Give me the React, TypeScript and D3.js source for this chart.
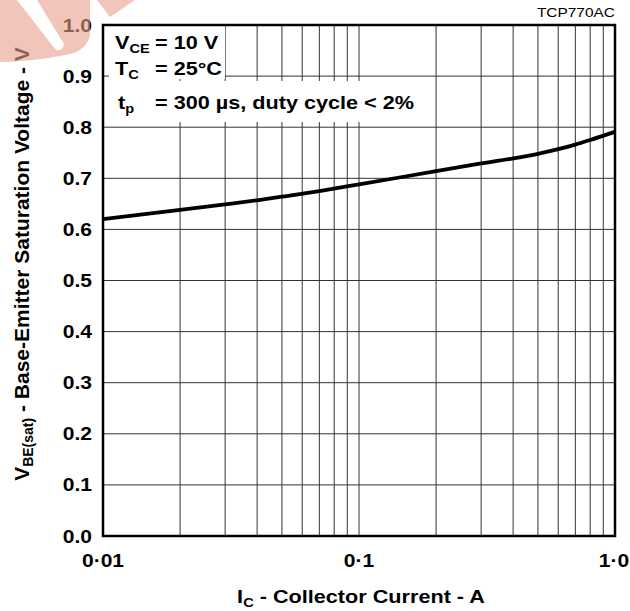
import * as d3 from "d3";

const currentA = [0.01, 0.02, 0.03, 0.04, 0.05, 0.07, 0.1, 0.2, 0.3, 0.4, 0.5, 0.6, 0.7, 0.8, 1.0];
const vbeSat = [0.62, 0.638, 0.649, 0.657, 0.664, 0.675, 0.688, 0.714, 0.729, 0.739, 0.748, 0.757, 0.766, 0.775, 0.791];

const xTickValues = [0.01, 0.1, 1.0];
const xTickLabels = ["0·01", "0·1", "1·0"];
const yTickValues = [0, 0.1, 0.2, 0.3, 0.4, 0.5, 0.6, 0.7, 0.8, 0.9, 1.0];
const xGrid = [0.02, 0.03, 0.04, 0.05, 0.06, 0.07, 0.08, 0.09, 0.1, 0.2, 0.3, 0.4, 0.5, 0.6, 0.7, 0.8, 0.9];
const yGrid = [0.1, 0.2, 0.3, 0.4, 0.5, 0.6, 0.7, 0.8, 0.9];

const W = 630;
const H = 611;
const margin = { top: 25, right: 15, bottom: 75, left: 103 };
const font = "'Liberation Sans', Arial, Helvetica, sans-serif";
// the reference lettering is a wide Helvetica, so stretch a bit
const SX = 1.17;
const FS = 18.5;
const SUB = 12.5;

function Wide({ x, y, anchor, size = FS, children }: any) {
  return (
    <g transform={`translate(${x},${y}) scale(${SX},1)`}>
      <text x={0} y={0} fontSize={size} fontWeight="bold" textAnchor={anchor}>
        {children}
      </text>
    </g>
  );
}

export default function App() {
  const x = d3.scaleLog().domain([0.01, 1]).range([margin.left, W - margin.right]);
  const y = d3.scaleLinear().domain([0, 1]).range([H - margin.bottom, margin.top]);

  const pts = currentA.map((c, i) => ({ c, v: vbeSat[i] }));
  const line = d3
    .line<{ c: number; v: number }>()
    .x((d) => x(d.c))
    .y((d) => y(d.v))
    .curve(d3.curveMonotoneX);

  const [x0, x1] = x.range();
  const [y0, y1] = y.range();
  const eqX = (155 - 115) / SX;

  return (
    <svg
      width={W}
      height={H}
      style={{ position: "absolute", left: 0, top: 0, background: "#fff" }}
      fontFamily={font}
    >
      <rect x={0} y={0} width={W} height={H} fill="#fff" />

      {/* grid */}
      {xGrid.map((g) => (
        <line key={"vx" + g} x1={x(g)} x2={x(g)} y1={y0} y2={y1} stroke="#333" strokeWidth={1} />
      ))}
      {yGrid.map((g) => (
        <line key={"hy" + g} x1={x0} x2={x1} y1={y(g)} y2={y(g)} stroke="#333" strokeWidth={1} />
      ))}

      {/* condition box */}
      <rect x={x0 + 6} y={y1 + 1} width={116} height={79 - y1 - 1} fill="#fff" />
      <rect x={x0 + 6} y={81} width={322} height={41} fill="#fff" />
      <Wide x={115} y={49}>
        V<tspan fontSize={SUB} dy={4}>CE</tspan>
        <tspan x={eqX} dy={-4}>= 10 V</tspan>
      </Wide>
      <Wide x={115} y={75}>
        T<tspan fontSize={SUB} dy={4}>C</tspan>
        <tspan x={eqX} dy={-4}>= 25°C</tspan>
      </Wide>
      <Wide x={118} y={109}>
        t<tspan fontSize={SUB} dy={4}>p</tspan>
        <tspan x={(155 - 118) / SX} dy={-4}>= 300 µs, duty cycle &lt; 2%</tspan>
      </Wide>

      {/* curve */}
      <path d={line(pts) ?? ""} fill="none" stroke="#000" strokeWidth={3.8} />

      {/* frame */}
      <rect x={x0} y={y1} width={x1 - x0} height={y0 - y1} fill="none" stroke="#000" strokeWidth={2.5} />

      {/* y ticks */}
      {yTickValues.map((v) => (
        <Wide key={"yt" + v} x={92} y={y(v) + 6.5} anchor="end" size={18}>
          {v.toFixed(1)}
        </Wide>
      ))}

      {/* x ticks */}
      {xTickValues.map((v, i) => (
        <Wide key={"xt" + v} x={i === 2 ? x(v) - 1 : x(v)} y={567} anchor="middle" size={18}>
          {xTickLabels[i]}
        </Wide>
      ))}

      {/* axis titles */}
      <Wide x={361} y={603} anchor="middle">
        I<tspan fontSize={SUB} dy={4}>C</tspan>
        <tspan dy={-4}> - Collector Current - A</tspan>
      </Wide>
      <text
        transform="translate(29,264) rotate(-90)"
        fontWeight="bold"
        fontSize={21}
        textAnchor="middle"
      >
        V<tspan fontSize={14} dy={4}>BE(sat)</tspan>
        <tspan dy={-4}> - Base-Emitter Saturation Voltage - V</tspan>
      </text>

      <g transform={`translate(615,17) scale(1.19,1)`}>
        <text x={0} y={0} fontSize={13} textAnchor="end" fill="#000">
          TCP770AC
        </text>
      </g>

      {/* watermark */}
      <g fill="#e8a08c" opacity={0.6}>
        <path d="M0,0 L90,0 L90,35 Q86,52 65,55 Q30,62 0,62 Z" />
        <path d="M97,0 L135,0 L110,17 Z" />
      </g>
      <path d="M17,0 L37,0 L64,44 Q62,53 55,49 Z" fill="#fff" />
    </svg>
  );
}
